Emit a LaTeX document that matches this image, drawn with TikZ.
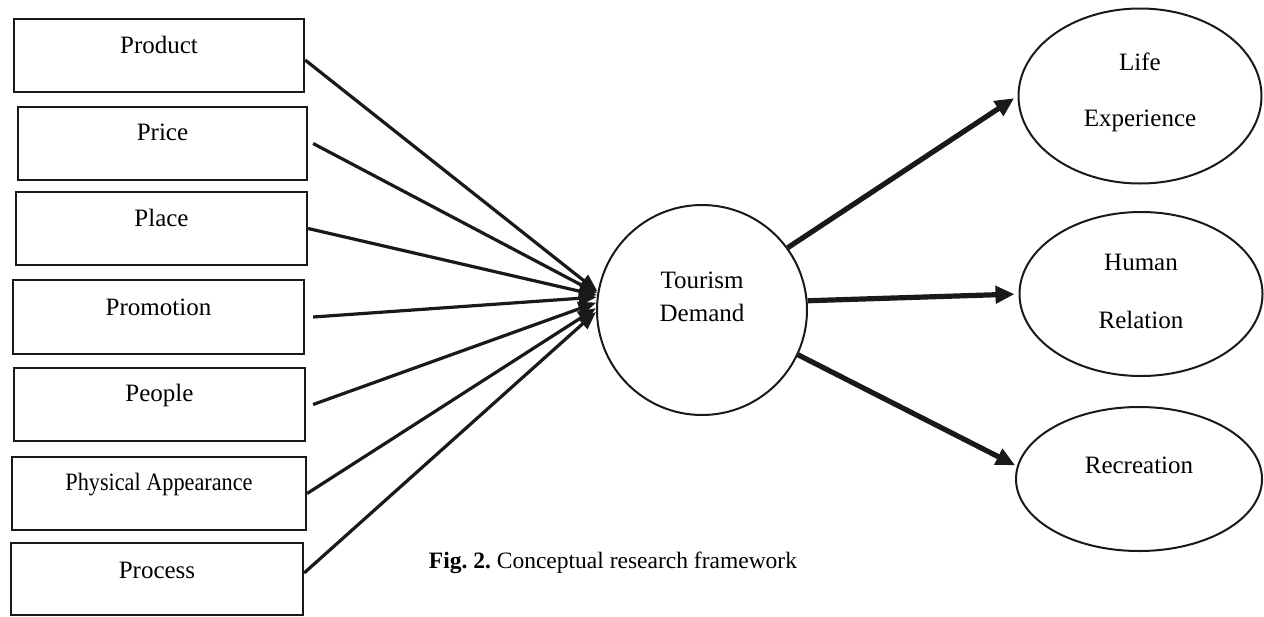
\documentclass[tikz,border=0pt]{standalone}
\usepackage{fontspec}
\setmainfont{Liberation Serif}
\usetikzlibrary{arrows.meta,shapes.geometric}
\frenchspacing
\begin{document}
\begin{tikzpicture}[x=1pt,y=-1pt,
  box/.style={draw=black!90, line width=2.2pt, rectangle, inner sep=0pt, minimum height=73pt},
  oval/.style={draw=black!90, line width=2pt, ellipse, inner sep=0pt},
  hub/.style={draw=black!90, line width=2pt, circle, inner sep=0pt, minimum size=210pt},
  every label/.style={font=\fontsize{25}{30}\selectfont, inner sep=0pt, text=black},
  inarrow/.style={draw=black!90, line width=3.2pt, -{Triangle[length=18pt,width=14pt]}},
  outarrow/.style={draw=black!90, line width=5.2pt, -{Triangle[length=19pt,width=17pt]}},
  caption/.style={font=\fontsize{23.5}{28}\selectfont, inner sep=0pt}
]
\useasboundingbox (0,0) rectangle (1264,616);

% left boxes
\node[box, minimum width=290pt, label={[yshift=10.5pt]center:Product}] (product) at (159,55.5) {};
\node[box, minimum width=289pt, label={[yshift=11pt]center:Price}] (price) at (162.5,143.5) {};
\node[box, minimum width=291pt, label={[yshift=11pt]center:Place}] (place) at (161.5,228.5) {};
\node[box, minimum width=291pt, minimum height=74pt, label={[yshift=10pt]center:Promotion}] (promo) at (158.5,317) {};
\node[box, minimum width=291pt, label={[yshift=9pt]center:People}] (people) at (159.5,404.5) {};
\node[box, minimum width=294pt, label={[yshift=9pt, font={\fontsize{25}{30}\selectfont\addfontfeatures{FakeStretch=0.89}}]center:Physical Appearance}] (phys) at (159,493.5) {};
\node[box, minimum width=292pt, minimum height=72pt, label={[yshift=9pt]center:Process}] (process) at (157,579) {};

% hub
\node[hub, label={[yshift=30pt]center:Tourism}, label={[yshift=-3pt]center:Demand}] (tour) at (702,310) {};

% outcome ellipses
\node[oval, minimum width=243pt, minimum height=175pt, label={[yshift=34pt]center:Life}, label={[yshift=-24.5pt]center:Experience}] (life) at (1140,96) {};
\node[oval, minimum width=243pt, minimum height=164pt, label={[yshift=32pt]center:Human}, label={[yshift=-26pt]center:Relation}] (human) at (1141,294) {};
\node[oval, minimum width=246pt, minimum height=144pt, label={[yshift=14pt]center:Recreation}] (recre) at (1139,479) {};

% caption
\node[caption] (cap) at (613,563) {\textbf{Fig. 2.} Conceptual research framework};

% incoming arrows
\draw[inarrow] ([yshift=-4.5pt]product.east) -- (tour.170);
\draw[inarrow] ([xshift=5pt]price.east) -- (tour.171);
\draw[inarrow] (place.east) -- (tour.172);
\draw[inarrow] ([xshift=8pt]promo.east) -- (tour.173);
\draw[inarrow] ([xshift=7pt]people.east) -- (tour.176);
\draw[inarrow] (phys.east) -- (tour.179);
\draw[inarrow] ([yshift=6pt]process.east) -- (tour.181);

% outgoing arrows
\draw[outarrow, shorten >=4pt] (tour.36) -- (life.west);
\draw[outarrow, shorten >=4pt] (tour.5) -- (human.west);
\draw[outarrow, shorten >=2pt] (tour.-25) -- (recre.174);
\end{tikzpicture}
\end{document}
